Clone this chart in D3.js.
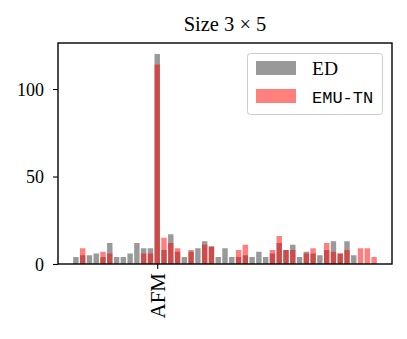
<!DOCTYPE html>
<html><head><meta charset="utf-8">
<script src="https://cdn.jsdelivr.net/npm/d3@7"></script>
<style>body{margin:0;background:#fff}svg{display:block}</style>
</head><body>
<script>
const categories = d3.range(45).map(i => i === 12 ? "AFM" : "c" + i);
const tickLabels = ["AFM"];
const yTicks = [0, 50, 100];
const edValues = [4,5,5,6,4,12,4,4,6,12,9,9,120,8,17,7,4,7,9,13,10,4,9,4,4,5,4,7,4,6,12,8,11,4,7,6,5,8,13,6,13,5,0,0,0];
const emuValues = [0,9,0,0,7,6,0,0,0,0,6,6,114,15,12,9,0,8,0,11,10,0,0,0,8,11,0,0,0,8,16,8,8,0,6,9,0,12,7,6,8,0,9,9,4];
const seriesNames = ["ED", "EMU-TN"];

const W = 407, H = 339;
const m = {left: 58, right: 15, top: 43, bottom: 75};
const svg = d3.select("body").append("svg").attr("width", W).attr("height", H);
const serif = "'Liberation Serif', 'DejaVu Serif', serif";

const n = categories.length;
const bw = 0.8;
const span = (n - 1) + bw;
const pad = span * 0.05;
const x = d3.scaleLinear().domain([-bw/2 - pad, n - 1 + bw/2 + pad]).range([m.left, W - m.right]);
const y = d3.scaleLinear().domain([0, 126.3]).range([H - m.bottom, m.top]);

const g = svg.append("g");
function drawBars(vals, color, op) {
  g.selectAll(null).data(vals).enter().append("rect")
    .attr("x", (d, i) => x(i - bw/2))
    .attr("width", x(bw) - x(0))
    .attr("y", d => y(d))
    .attr("height", d => y(0) - y(d))
    .attr("fill", color).attr("fill-opacity", op);
}
drawBars(edValues, "gray", 0.8);
drawBars(emuValues, "red", 0.5);

// axes
const yAxis = d3.axisLeft(y).tickValues(yTicks).tickSize(5).tickPadding(9);
const ya = svg.append("g").attr("transform", `translate(${m.left},0)`).call(yAxis);
ya.select(".domain").remove();
ya.selectAll("line").attr("stroke", "#000").attr("stroke-width", 1.1);
ya.selectAll("text").attr("font-family", serif).attr("font-size", 18).attr("fill", "#000").attr("dy", "0.34em");

const tickIdx = categories.map((c, i) => tickLabels.includes(c) ? i : -1).filter(i => i >= 0);
const xAxis = d3.axisBottom(x).tickValues(tickIdx).tickFormat(i => categories[i]).tickSize(5).tickPadding(7);
const xa = svg.append("g").attr("transform", `translate(0,${H - m.bottom})`).call(xAxis);
xa.select(".domain").remove();
xa.selectAll("line").attr("stroke", "#000").attr("stroke-width", 1.1);
xa.selectAll("text").attr("font-family", serif).attr("font-size", 21).attr("fill", "#000")
  .attr("transform", "rotate(-90)").attr("text-anchor", "end").attr("dy", "0.34em").attr("x", -9).attr("y", 0);

// frame
svg.append("rect").attr("x", m.left).attr("y", m.top)
  .attr("width", W - m.right - m.left).attr("height", H - m.bottom - m.top)
  .attr("fill", "none").attr("stroke", "#000").attr("stroke-width", 1.4);

// title
svg.append("text").attr("x", (m.left + W - m.right) / 2).attr("y", 31)
  .attr("text-anchor", "middle").attr("font-family", serif).attr("font-size", 20.5)
  .text("Size 3 \u00d7 5");

// legend
const lg = svg.append("g");
lg.append("rect").attr("x", 247.5).attr("y", 53.5).attr("width", 135).attr("height", 61)
  .attr("rx", 3).attr("fill", "#fff").attr("fill-opacity", 0.8).attr("stroke", "#ccc").attr("stroke-width", 1);
const legColors = [["gray", 0.8], ["red", 0.5]];
seriesNames.forEach((s, i) => {
  lg.append("rect").attr("x", 256).attr("y", 61 + i * 28).attr("width", 40).attr("height", 14)
    .attr("fill", legColors[i][0]).attr("fill-opacity", legColors[i][1]);
  lg.append("text").attr("x", 312).attr("y", 75 + i * 28)
    .attr("font-family", i === 0 ? serif : "'Liberation Mono', 'DejaVu Sans Mono', monospace")
    .attr("font-size", i === 0 ? 19.5 : 17).text(s);
});
</script>
</body></html>
